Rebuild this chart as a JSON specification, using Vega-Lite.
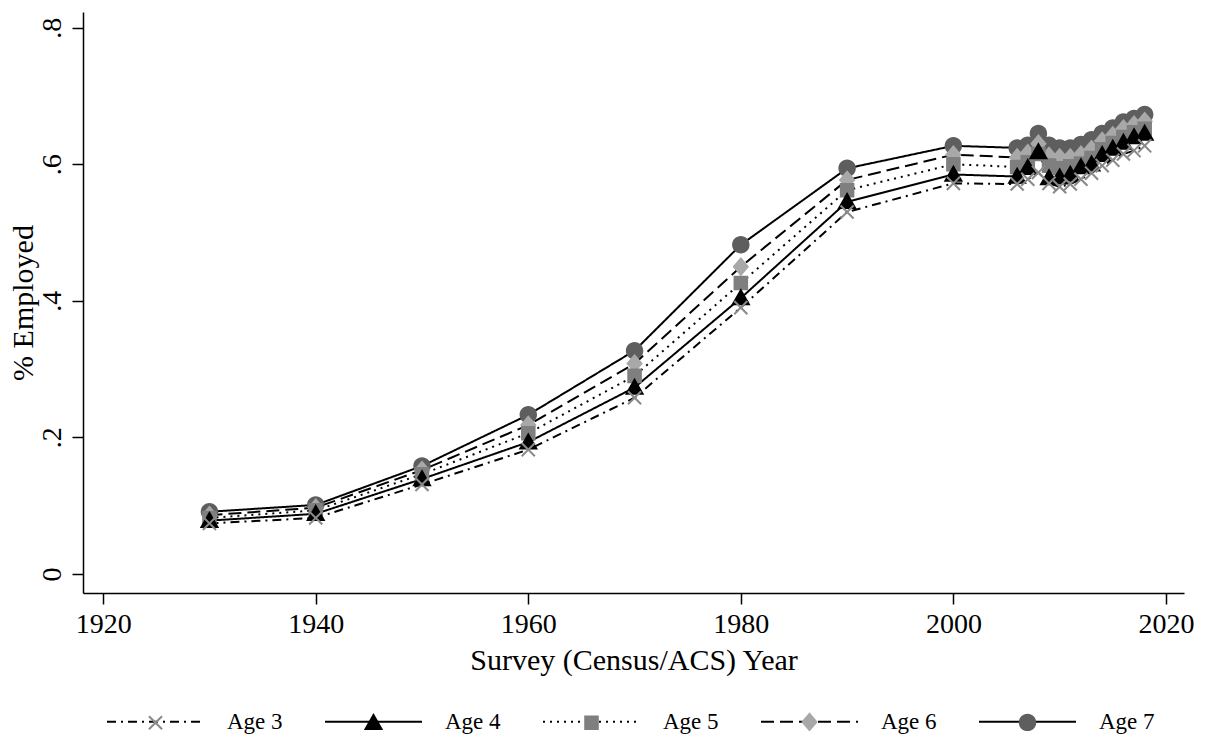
{
  "$schema": "https://vega.github.io/schema/vega-lite/v6.json",
  "width": 1101,
  "height": 581,
  "autosize": {"type": "none"},
  "padding": {"left": 83, "top": 12, "right": 23, "bottom": 149},
  "background": "white",
  "config": {
    "view": {"stroke": null},
    "font": "Liberation Serif",
    "axis": {
      "grid": false,
      "domainColor": "black",
      "domainWidth": 1.5,
      "tickColor": "black",
      "tickWidth": 1.5,
      "tickSize": 11,
      "labelFont": "Liberation Serif",
      "labelFontSize": 28,
      "labelColor": "black",
      "titleFont": "Liberation Serif",
      "titleFontSize": 30,
      "titleFontWeight": "normal",
      "titleColor": "black"
    }
  },
  "data": {
    "values": [
      {"year": 1930, "age": "Age 3", "emp": 0.074}, {"year": 1930, "age": "Age 4", "emp": 0.078}, {"year": 1930, "age": "Age 5", "emp": 0.082}, {"year": 1930, "age": "Age 6", "emp": 0.086}, {"year": 1930, "age": "Age 7", "emp": 0.091},
      {"year": 1940, "age": "Age 3", "emp": 0.082}, {"year": 1940, "age": "Age 4", "emp": 0.088}, {"year": 1940, "age": "Age 5", "emp": 0.093}, {"year": 1940, "age": "Age 6", "emp": 0.097}, {"year": 1940, "age": "Age 7", "emp": 0.101},
      {"year": 1950, "age": "Age 3", "emp": 0.131}, {"year": 1950, "age": "Age 4", "emp": 0.139}, {"year": 1950, "age": "Age 5", "emp": 0.146}, {"year": 1950, "age": "Age 6", "emp": 0.152}, {"year": 1950, "age": "Age 7", "emp": 0.158},
      {"year": 1960, "age": "Age 3", "emp": 0.182}, {"year": 1960, "age": "Age 4", "emp": 0.193}, {"year": 1960, "age": "Age 5", "emp": 0.206}, {"year": 1960, "age": "Age 6", "emp": 0.218}, {"year": 1960, "age": "Age 7", "emp": 0.233},
      {"year": 1970, "age": "Age 3", "emp": 0.258}, {"year": 1970, "age": "Age 4", "emp": 0.273}, {"year": 1970, "age": "Age 5", "emp": 0.29}, {"year": 1970, "age": "Age 6", "emp": 0.308}, {"year": 1970, "age": "Age 7", "emp": 0.327},
      {"year": 1980, "age": "Age 3", "emp": 0.39}, {"year": 1980, "age": "Age 4", "emp": 0.404}, {"year": 1980, "age": "Age 5", "emp": 0.426}, {"year": 1980, "age": "Age 6", "emp": 0.45}, {"year": 1980, "age": "Age 7", "emp": 0.482},
      {"year": 1990, "age": "Age 3", "emp": 0.53}, {"year": 1990, "age": "Age 4", "emp": 0.545}, {"year": 1990, "age": "Age 5", "emp": 0.562}, {"year": 1990, "age": "Age 6", "emp": 0.577}, {"year": 1990, "age": "Age 7", "emp": 0.594},
      {"year": 2000, "age": "Age 3", "emp": 0.572}, {"year": 2000, "age": "Age 4", "emp": 0.585}, {"year": 2000, "age": "Age 5", "emp": 0.6}, {"year": 2000, "age": "Age 6", "emp": 0.614}, {"year": 2000, "age": "Age 7", "emp": 0.627},
      {"year": 2006, "age": "Age 3", "emp": 0.571}, {"year": 2006, "age": "Age 4", "emp": 0.582}, {"year": 2006, "age": "Age 5", "emp": 0.596}, {"year": 2006, "age": "Age 6", "emp": 0.61}, {"year": 2006, "age": "Age 7", "emp": 0.624},
      {"year": 2007, "age": "Age 3", "emp": 0.578}, {"year": 2007, "age": "Age 4", "emp": 0.595}, {"year": 2007, "age": "Age 5", "emp": 0.603}, {"year": 2007, "age": "Age 6", "emp": 0.616}, {"year": 2007, "age": "Age 7", "emp": 0.628},
      {"year": 2008, "age": "Age 3", "emp": 0.588}, {"year": 2008, "age": "Age 4", "emp": 0.618}, {"year": 2008, "age": "Age 5", "emp": 0.615}, {"year": 2008, "age": "Age 6", "emp": 0.63}, {"year": 2008, "age": "Age 7", "emp": 0.645},
      {"year": 2009, "age": "Age 3", "emp": 0.572}, {"year": 2009, "age": "Age 4", "emp": 0.58}, {"year": 2009, "age": "Age 5", "emp": 0.598}, {"year": 2009, "age": "Age 6", "emp": 0.612}, {"year": 2009, "age": "Age 7", "emp": 0.628},
      {"year": 2010, "age": "Age 3", "emp": 0.567}, {"year": 2010, "age": "Age 4", "emp": 0.581}, {"year": 2010, "age": "Age 5", "emp": 0.594}, {"year": 2010, "age": "Age 6", "emp": 0.61}, {"year": 2010, "age": "Age 7", "emp": 0.624},
      {"year": 2011, "age": "Age 3", "emp": 0.571}, {"year": 2011, "age": "Age 4", "emp": 0.585}, {"year": 2011, "age": "Age 5", "emp": 0.597}, {"year": 2011, "age": "Age 6", "emp": 0.61}, {"year": 2011, "age": "Age 7", "emp": 0.624},
      {"year": 2012, "age": "Age 3", "emp": 0.578}, {"year": 2012, "age": "Age 4", "emp": 0.596}, {"year": 2012, "age": "Age 5", "emp": 0.601}, {"year": 2012, "age": "Age 6", "emp": 0.614}, {"year": 2012, "age": "Age 7", "emp": 0.629},
      {"year": 2013, "age": "Age 3", "emp": 0.587}, {"year": 2013, "age": "Age 4", "emp": 0.6}, {"year": 2013, "age": "Age 5", "emp": 0.609}, {"year": 2013, "age": "Age 6", "emp": 0.622}, {"year": 2013, "age": "Age 7", "emp": 0.636},
      {"year": 2014, "age": "Age 3", "emp": 0.598}, {"year": 2014, "age": "Age 4", "emp": 0.614}, {"year": 2014, "age": "Age 5", "emp": 0.622}, {"year": 2014, "age": "Age 6", "emp": 0.634}, {"year": 2014, "age": "Age 7", "emp": 0.645},
      {"year": 2015, "age": "Age 3", "emp": 0.606}, {"year": 2015, "age": "Age 4", "emp": 0.623}, {"year": 2015, "age": "Age 5", "emp": 0.631}, {"year": 2015, "age": "Age 6", "emp": 0.642}, {"year": 2015, "age": "Age 7", "emp": 0.653},
      {"year": 2016, "age": "Age 3", "emp": 0.615}, {"year": 2016, "age": "Age 4", "emp": 0.632}, {"year": 2016, "age": "Age 5", "emp": 0.64}, {"year": 2016, "age": "Age 6", "emp": 0.652}, {"year": 2016, "age": "Age 7", "emp": 0.662},
      {"year": 2017, "age": "Age 3", "emp": 0.62}, {"year": 2017, "age": "Age 4", "emp": 0.64}, {"year": 2017, "age": "Age 5", "emp": 0.647}, {"year": 2017, "age": "Age 6", "emp": 0.658}, {"year": 2017, "age": "Age 7", "emp": 0.667},
      {"year": 2018, "age": "Age 3", "emp": 0.627}, {"year": 2018, "age": "Age 4", "emp": 0.645}, {"year": 2018, "age": "Age 5", "emp": 0.652}, {"year": 2018, "age": "Age 6", "emp": 0.663}, {"year": 2018, "age": "Age 7", "emp": 0.673}
    ]
  },
  "encoding": {
    "x": {
      "field": "year",
      "type": "quantitative",
      "scale": {"domain": [1918.1, 2021.7], "nice": false, "zero": false},
      "axis": {
        "title": "Survey (Census/ACS) Year",
        "values": [1920, 1940, 1960, 1980, 2000, 2020],
        "format": "d",
        "labelPadding": 6,
        "titlePadding": 7
      }
    },
    "y": {
      "field": "emp",
      "type": "quantitative",
      "scale": {"domain": [-0.028, 0.823], "nice": false, "zero": false},
      "axis": {
        "title": "% Employed",
        "values": [0, 0.2, 0.4, 0.6, 0.8],
        "labelExpr": "datum.value == 0 ? '0' : replace(format(datum.value, '.1f'), '0.', '.')",
        "labelAngle": 270,
        "labelAlign": "center",
        "labelBaseline": "bottom",
        "labelPadding": 6,
        "titlePadding": 0
      }
    }
  },
  "layer": [
    {
      "mark": {"type": "line", "color": "black", "strokeWidth": 2},
      "encoding": {
        "strokeDash": {
          "field": "age",
          "type": "nominal",
          "scale": {
            "domain": ["Age 3", "Age 4", "Age 5", "Age 6", "Age 7"],
            "range": [[9, 5, 2, 5], [1, 0], [2, 5], [13, 6], [1, 0]]
          },
          "legend": {
            "orient": "none",
            "legendX": 23,
            "legendY": 660,
            "direction": "horizontal",
            "columns": 5,
            "title": null,
            "padding": 0,
            "zindex": 0,
            "symbolType": "stroke",
            "symbolSize": 9409,
            "symbolStrokeWidth": 2,
            "symbolStrokeColor": "black",
            "labelFont": "Liberation Serif",
            "labelFontSize": 23,
            "labelColor": "black",
            "labelOffset": 22,
            "columnPadding": 38,
            "labelLimit": 0
          }
        }
      }
    },
    {
      "mark": {"type": "point", "filled": true, "opacity": 1, "size": 9409},
      "encoding": {
        "shape": {
          "field": "age",
          "type": "nominal",
          "scale": {
            "range": [
              "M-0.15,-0.12L-0.12,-0.15L0,-0.03L0.12,-0.15L0.15,-0.12L0.03,0L0.15,0.12L0.12,0.15L0,0.03L-0.12,0.15L-0.15,0.12L-0.03,0ZM-1,0H1",
              "M0,-0.2L0.2,0.15L-0.2,0.15ZM-1,0H1",
              "M-0.15,-0.15H0.15V0.15H-0.15ZM-1,0H1",
              "M0,-0.2L0.17,0L0,0.2L-0.17,0ZM-1,0H1",
              "M-0.18,0A0.18,0.18,0,1,0,0.18,0A0.18,0.18,0,1,0,-0.18,0ZM-1,0H1"
            ]
          },
          "legend": {
            "orient": "none",
            "legendX": 23,
            "legendY": 660,
            "direction": "horizontal",
            "columns": 5,
            "title": null,
            "padding": 0,
            "zindex": 1,
            "symbolSize": 9409,
            "symbolStrokeWidth": 2,
            "symbolStrokeColor": "transparent",
            "symbolOpacity": 1,
            "labelFont": "Liberation Serif",
            "labelFontSize": 23,
            "labelColor": "transparent",
            "labelOffset": 22,
            "columnPadding": 38,
            "labelLimit": 0
          }
        },
        "color": {
          "field": "age",
          "type": "nominal",
          "scale": {"range": ["#8a8a8a", "#000000", "#7f7f7f", "#a8a8a8", "#5e5e5e"]},
          "legend": {
            "orient": "none",
            "legendX": 23,
            "legendY": 660,
            "direction": "horizontal",
            "columns": 5,
            "title": null,
            "padding": 0,
            "zindex": 1,
            "symbolSize": 9409,
            "symbolStrokeWidth": 2,
            "symbolStrokeColor": "transparent",
            "symbolOpacity": 1,
            "labelFont": "Liberation Serif",
            "labelFontSize": 23,
            "labelColor": "transparent",
            "labelOffset": 22,
            "columnPadding": 38,
            "labelLimit": 0
          }
        },
        "order": {"field": "age", "sort": "descending"}
      }
    }
  ]
}
